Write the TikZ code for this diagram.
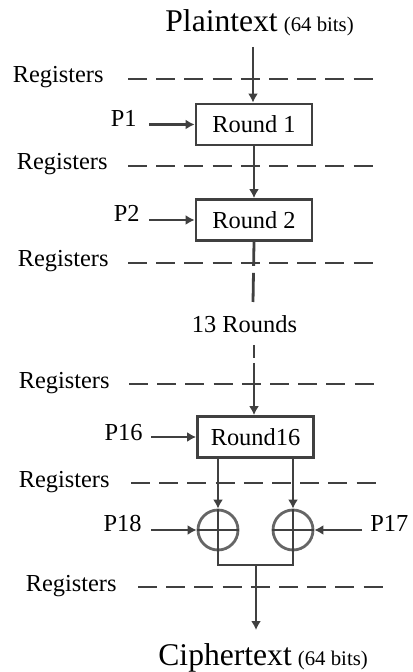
\documentclass[tikz,border=0pt]{standalone}
\usepackage{fontspec}
\setmainfont{Liberation Serif}
\usetikzlibrary{arrows.meta}
\newcommand{\bigtxt}{\fontsize{15.8}{18}\selectfont}
\newcommand{\midtxt}{\fontsize{12.2}{14}\selectfont}
\newcommand{\smalltxt}{\fontsize{10.4}{12}\selectfont}

\begin{document}
\begin{tikzpicture}[x=0.5pt, y=-0.5pt,
        wire/.style={line width=1.4pt, draw=black!75},
        arr/.style={wire, -{Latex[length=4.5pt,width=5pt]}},
        regline/.style={wire, dash pattern=on 9.5pt off 4.6pt},
        roundbox/.style={draw=black!75, line width=1.4pt, minimum width=58pt, minimum height=20.5pt, inner sep=0pt, font=\midtxt},
        xorc/.style={circle, draw=black!60, line width=1.4pt, minimum size=20pt, inner sep=0pt},
        lbl/.style={inner sep=0pt, font=\midtxt}]
        \useasboundingbox (0,0) rectangle (412,672);

        \foreach \n/\tx/\y/\xa/\xb in {1/104/79/128/373, 2/108/166/128/373, 3/109/263/128/373,
                4/110/384/129/374, 5/110/483/131/376, 6/117/587/138/383} {
            \node[lbl, anchor=base east] (reg\n) at (\tx,\y+4) {Registers};
            \coordinate (ra\n) at (\xa,\y);
            \coordinate (rb\n) at (\xb,\y);
            \draw[regline] (ra\n) -- (rb\n);
        }

        \node[lbl, anchor=base west] (plain) at (165,32) {{\bigtxt Plaintext} {\smalltxt (64 bits)}};
        \node[roundbox] (r1) at (254,124.5) {Round 1};
        \node[roundbox] (r2) at (254,220) {Round 2};
        \node[lbl] (mid) at (244.5,324) {13 Rounds};
        \node[roundbox] (r16) at (255.5,437) {Round16};
        \node[xorc] (x18) at (218,530) {};
        \node[xorc] (x17) at (293,530) {};
        \node[lbl, anchor=base east] (p1) at (137,127) {P1};
        \node[lbl, anchor=base east] (p2) at (140,222) {P2};
        \node[lbl, anchor=base east] (p16) at (143,440) {P16};
        \node[lbl, anchor=base east] (p18) at (142,531) {P18};
        \node[lbl, anchor=base west] (p17) at (370,531) {P17};
        \node[lbl, anchor=base west] (cipher) at (158,665) {{\bigtxt Ciphertext} {\smalltxt (64 bits)}};
        \coordinate (in) at (253,47);
        \coordinate (gapa) at (253,302);
        \coordinate (gapb) at (254,345);
        \coordinate (join) at (256,565);
        \coordinate (out) at (256,630);

        \draw[arr] (in) -- (in |- r1.north);
        \draw[arr] (r1.south) -- (r2.north);
        \draw[wire, dash pattern=on 12pt off 3.5pt on 15pt off 20pt] (r2.south) -- (gapa);
        \draw[arr, dash pattern=on 6.5pt off 2.5pt on 100pt] (gapb) -- (gapb |- r16.north);
        \draw[arr] (p1.base east) ++(12,-2.5) -- (r1.west);
        \draw[arr] (p2.base east) ++(9,-2) -- (r2.west);
        \draw[arr] (p16.base east) ++(8,-3) -- (r16.west);
        \draw[arr] (r16.south -| x18) -- (x18.north);
        \draw[arr] (r16.south -| x17) -- (x17.north);
        \draw[wire] (x18.north) -- (x18.south) (x18.west) -- (x18.east);
        \draw[wire] (x17.north) -- (x17.south) (x17.west) -- (x17.east);
        \draw[arr] (p18.base east) ++(9,-1) -- (x18.west);
        \draw[arr] (p17.base west) ++(-8,-1) -- (x17.east);
        \draw[wire] (x18.south) |- (join) -| (x17.south);
        \draw[arr] (join) -- (out);

    \end{tikzpicture}
\end{document}
